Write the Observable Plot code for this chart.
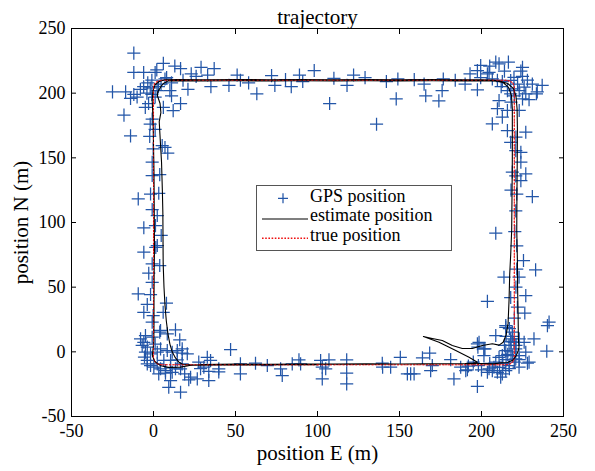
<!DOCTYPE html>
<html><head><meta charset="utf-8">
<script src="https://cdn.jsdelivr.net/npm/d3@7"></script>
<script src="https://cdn.jsdelivr.net/npm/@observablehq/plot@0.6"></script>
<style>
body{margin:0;background:#fff;}
#wrap{position:relative;width:595px;height:471px;font-family:"Liberation Serif","Times New Roman",serif;}
#legend{position:absolute;left:256px;top:185px;width:196px;height:66px;box-sizing:border-box;border:1px solid #555;background:#fff;}
#legend svg{display:block;}
</style></head><body><div id="wrap"></div>
<script>
// GPS position samples (E, N) in metres
const gpsE = [].concat(
 [-12,-12,-6,-25,-17,-12,-14,-10,-5,-18,
  -14,-3.5,-1,1,2,6,13,16.5,23,29,
  37,33,35,21,11,10,11,16.5,12,6,
  4.6,2.2,-6,-4,1,-2,-8,-1,3,7,
  -3,-0.8,8,18,26,46,51,58,63,72,
  74,84,89,53,80.5,91,98,107.4,110,118,
  122,129,136,142,148,149,159,165,166,174,
  176,176.7,184,190,197.5,193,199.5,208.7,216.4,225],
 [237,233.5,197.5,199.5,204.6,210.7,224,225,219.8,217.8,
  222,226,227,225,215.8,217.8,219.8,234,210.7,209.7,
  215.8,223,212.7,206.6,215.8,227,221,203.6,206.6,209.7,
  212.7,205,214,220,212,228,231,218,223,229],
 [217.8,220.9,224,224,218.8,220.9,227,224,231,221.5,
  220.9,208.7,220.3,221.5,225.6,233,213.7,222.9,221,227,
  203.6,217.8,221.9,226.4,241.2,240.2,232,214.8,208.7,198.5,
  201.5,239.8,228,222.9,183.2,197.5,187.3,190.4,221.5,218],
 [197.5,197.8,198.1,202.1,201.5,214.8,215,218.8,217.8,219.8,
  220.9,216.8,214.8,212.7,210.7,208.7,207.6,204.6,203.6,206.6,
  209.7,212.7,211.7,214.8,216.8,220.9,222.9,226,227,229,
  218,219,215,213,217,220,223,221,223,219,
  217,220,214,211,205,200,195,192,216,218],
 [181.2,191.4,164,168.4,170,169,150.5,154.8,156.8,158.9,
  139.5,139.7,144.6,117.8,117.8,117.8,107,105,102.9,102.9,
  101.9,89.7,88.7,84.6,78.5,77.5,69.4,62.2,53,53,
  47,39.8,39.8,34.8,32.8,33.7,33.7,26.7,30.7,28.7,
  27.6],
 [-4.9,-5.9,-3.8,-0.8,-4.9,-1.8,-3.8,2.3,4.3,8.4,
  11.4,14.5,17.5,20.6,6.3,10.4,14.5,17.5,2.3,4.3,
  7.3,10.4,13.4,16.5,0.2,-1.8,3.2,7.3,11.4,22.6,
  21.5,10.4,9.3,16.5,4.3,8.4,13.4,16,17.5,-7.9,
  -6.9,-5.5,-3.8,1,19],
 [-2.3,-0.2,5.3,8.7,7,-0.8,3.8,-0.8,-1.8,3.2,
  -9.3,-0.8,2.3,-5.9,1.2,4.7,2.3,1.4,-5.9,-0.8,
  3.8,-2.9,-0.8,-9.3,-1.8,-3.8,-5.9,7.9,5.9,-0.2,
  -0.8,3.8,-2,1]
);
const gpsN = [].concat(
 [231,216,216,201,201,199,196,197,189,183,
  167,208,210,216,218,223,221,219,215,220,
  219,214,205,203,208,202,198,192,186.5,189,
  207,202,205,200,197,204,203,199,205,211,
  192,180,212,210,213,206,214,208,199.5,213.6,
  206,205,214,210,210.5,209,217.5,192,211.5,206,
  214,212,176,209,195.6,211,210.5,207,198,194,
  202,211,210,207,202.6,215,221.4,224,224,220],
 [206,199.5,217.5,212,216,222.7,217,213,212.3,209.8,
  207,204.6,199.5,195.6,202,199.5,203.3,201,194.3,188,
  186.6,186.6,181.4,176.3,171,169.8,166,215,211,210,
  209,221,217,198,205,210,207,193,202,195],
 [162,155.6,154.3,146.6,139,136,137.6,132.4,120,122,
  109,91.7,93,82,70.6,63.4,57.7,57.7,50,43.5,
  39,42,34.5,30,23,20.3,10,19,12.6,7.4,
  2.3,0.5,-8.8,-11.9,-21,-26.8,-11.9,-14.5,64,125],
 [6.2,3.6,-10.6,2.3,-2.9,20.3,12,15.2,10,7.4,
  2.3,4.9,1,-2.9,-4.2,-8,-11.9,-13.1,-15.8,-14.5,
  -15.8,-17,-19.6,-14.5,-10.6,-5.4,-2.9,7.4,-0.3,-8,
  0,-3,-6,-9,-13,-8,-6,5,10,12,
  18,26,5,-12,-9,-14,-8,-11,-2,8],
 [-6,-13.9,-4.6,-1,-10.6,-14.5,-4.2,-17,-17,-17,
  -8.8,-11.9,-11.9,-6.2,-16.5,-24.8,-6.2,-13.1,-11.9,-20.9,
  -6.7,-9.3,-6.2,-9.3,-18.3,-13.1,-10.6,-8.8,-9.3,-17,
  1.8,-13.1,-15.5,-6.7,-4.2,-15.2,-22.2,-20.9,-11.9,-13,
  -8],
 [12.6,7.4,3.6,11.3,-0.3,-1.5,-6.7,-0.3,2.3,1,
  -0.3,1,-1,-1.5,-6.7,-6.7,-6.2,-9.3,-9.3,-13.1,
  -14.5,-12.4,-13.1,-13.1,-11.9,-10.6,-17,-16.5,-15.8,-19.6,
  -21.6,-22.2,-27.4,-31.2,16.5,13.9,17,9.3,2.3,10,
  4.9,-4,-9.3,6,-17],
 [166.5,157,159.5,153.6,158,146.6,137,136.3,122,122.6,
  118.3,110,105.4,95.9,97.6,90,82.2,80.7,77,68,
  66.7,60.8,53.8,44.8,44.3,36.6,30.6,37.6,30.6,28,
  23,15.2,176,172]
);

// Estimated trajectory (two laps)
const estE = [110,130,150,165,180,190,195,197.5,
  192.4,184.3,174.1,164.6,
  170,176.1,182.2,188.3,194.4,200.5,206.6,210.7,213.2,215,216.2,216.8,217.2,217.8,218.4,218.6,218.8,218.8,218.8,218.3,216.5,213,208,
  200,185,170,150,130,110,90,70,50,30,15,7,3.5,1,-0.3,-0.8,
  -0.3,0,0.3,0.4,0.5,0.6,0.4,0.3,0.3,0.2,-0.3,-0.7,0.8,4,9,16.5,22,
  30,50,70,90,110,130,150,170,190,200,207.6,212,215.8,219,220.9,222.2,222.9,
  222.5,222.3,222,221.9,221.5,221.6,221.8,221.9,221.7,221,219.5,216,211,
  200,185,170,150,130,110,90,70,50,30,15,9,6,4.5,2.6,2.4,4,4.5,3.5,3.8,
  4.9,5.4,5.7,5.9,6.4,7,7.8,8.8,10,11.4,13.3,15.5,18,24,40,60,80,100];
const estN = [-9.6,-9.5,-9.4,-9.3,-9.2,-9,-8.6,-8,
  -4.2,1,7.4,11.8,
  10.3,8.7,4.9,2.6,2.6,4.9,6.2,5.2,7.4,13,22,40,60,75,94,120,150,171,188,198,204.5,208.3,209.9,
  210.4,210.3,210.5,210.3,210.6,210.4,210.6,210.4,210.6,210.4,210.5,210.4,209,206.5,202,194.3,
  180,160,140,120,100,80,60,40,20,8,2,-3,-7.5,-10.5,-12,-11.8,-10.6,
  -9.8,-9.5,-9.6,-9.4,-9.5,-9.3,-9.4,-9.2,-9.2,-9.1,-9.3,-8.5,-8.2,-6.5,-3.5,0,3.6,
  10,30,50,70,94,120,150,171,188,198,203.5,207.5,209.3,
  209.6,209.4,209.6,209.4,209.6,209.4,209.6,209.4,209.6,209.4,209.6,209.5,207.5,205,201,198,192,185,178,171,
  146.6,125,108,68,50,36,24,14,6,0,-4.5,-8,-9.8,-10.3,-10.2,-10.1,-10,-9.9];

// True trajectory
const trueE = [100,215,217.5,219.33,220,220,219.33,217.5,215,5,2.5,0.67,0,0,0.67,2.5,5,100];
const trueN = [-10,-10,-9.33,-7.5,-5,205,207.5,209.33,210,210,209.33,207.5,205,-5,-7.5,-9.33,-10,-10];

const xTicks = [-50,0,50,100,150,200,250];
const yTicks = [-50,0,50,100,150,200,250];
const legendLabels = ["GPS position","estimate position","true position"];

const gps = gpsE.map((e,i)=>({e, n: gpsN[i]}));
const est = estE.map((e,i)=>({e, n: estN[i]}));
const tru = trueE.map((e,i)=>({e, n: trueN[i]}));

const serif = "'Liberation Serif','Times New Roman',Times,serif";
const fmt = d => String(d);
const chart = Plot.plot({
  width:595, height:471,
  marginLeft:71, marginTop:28, marginRight:32, marginBottom:55,
  style:{fontFamily:serif, fontSize:"18px", background:"white", color:"black", overflow:"visible"},
  x:{domain:[-50,250]},
  y:{domain:[-50,250]},
  marks:[
    Plot.dot(gps, {x:"e", y:"n", symbol:"plus", r:4.3, stroke:"#2356a8", strokeWidth:1.25}),
    Plot.line(tru, {x:"e", y:"n", stroke:"#ee1010", strokeWidth:1.1, strokeDasharray:"1.2,2"}),
    Plot.line(est, {x:"e", y:"n", stroke:"black", strokeWidth:1.1}),
    Plot.line(tru, {x:"e", y:"n", stroke:"#ee1010", strokeWidth:0.9, strokeDasharray:"1.2,3", strokeOpacity:0.8}),
    Plot.frame({stroke:"black", strokeWidth:1}),
    Plot.axisX({anchor:"bottom", ticks:xTicks, tickSize:-5, tickPadding:13, tickFormat:fmt,
      label:"position E (m)", labelAnchor:"center", labelOffset:43, labelArrow:"none"}),
    Plot.axisX({anchor:"top", ticks:xTicks, tickSize:-5, tickFormat:()=>"", label:null}),
    Plot.axisY({anchor:"left", ticks:yTicks, tickSize:-5, tickPadding:11, tickFormat:fmt,
      label:"position N (m)", labelAnchor:"center", labelOffset:58, labelArrow:"none"}),
    Plot.axisY({anchor:"right", ticks:yTicks, tickSize:-5, tickFormat:()=>"", label:null}),
    Plot.text(["trajectory"], {frameAnchor:"top", dy:-19, fontSize:21, fill:"black"})
  ]
});
d3.select(chart).selectAll("g[aria-label='x-axis label'], g[aria-label='y-axis label']").attr("font-size", 21);
d3.select(chart).selectAll("g[aria-label='x-axis label'] text, g[aria-label='y-axis label'] text").attr("font-size", 21);
document.getElementById("wrap").appendChild(chart);

// Legend
const lg = d3.select("#wrap").append("div").attr("id","legend");
const svg = lg.append("svg").attr("width",194).attr("height",64)
  .style("font-family",serif).style("font-size","18px");
svg.append("path").attr("d","M21,12.3H31M26,7.3V17.3").attr("stroke","#2356a8").attr("stroke-width",1.25).attr("fill","none");
svg.append("line").attr("x1",5).attr("x2",51).attr("y1",33).attr("y2",33).attr("stroke","black").attr("stroke-width",1.1);
svg.append("line").attr("x1",5).attr("x2",51).attr("y1",52.3).attr("y2",52.3).attr("stroke","#ee1010").attr("stroke-width",1.6).attr("stroke-dasharray","1.6,1.6");
const ys = [16,35,55];
legendLabels.forEach((t,i)=>{
  svg.append("text").attr("x",53).attr("y",ys[i]).attr("fill","black").text(t);
});
</script>
</body></html>
